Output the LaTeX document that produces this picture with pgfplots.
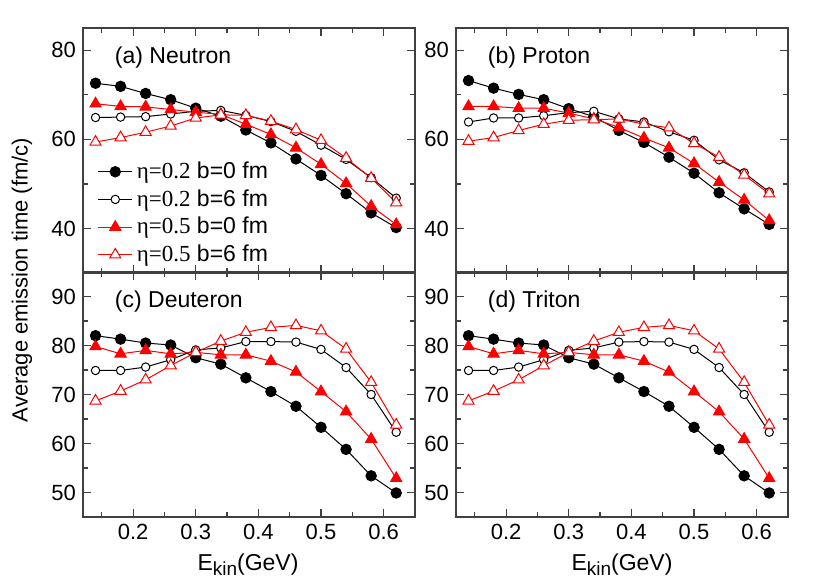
\documentclass[border=0pt]{standalone}
\usepackage{pgfplots}
\pgfplotsset{compat=1.18}
\usepackage{pgfplotstable}
\usepackage{fontspec}
\setmainfont{Liberation Sans}
\newfontfamily\serif{Liberation Serif}

% columns: a = eta 0.2 b=0, b = eta 0.2 b=6, c = eta 0.5 b=0, d = eta 0.5 b=6
\pgfplotstableread{
x    a    b    c    d
0.14 72.6 64.9 68.0 59.4
0.18 71.9 65.0 67.4 60.4
0.22 70.3 65.1 67.3 61.6
0.26 68.9 65.7 66.7 63.0
0.30 67.0 66.3 66.1 64.8
0.34 65.2 66.5 65.6 65.5
0.38 62.1 65.4 63.4 65.4
0.42 59.2 64.0 61.1 64.1
0.46 55.6 61.8 58.1 62.2
0.50 51.9 58.7 54.4 59.8
0.54 47.8 55.5 50.1 55.8
0.58 43.5 51.4 45.0 51.3
0.62 40.2 46.8 40.9 45.8
}\neutron
\pgfplotstableread{
x    a    b    c    d
0.14 73.2 63.9 67.4 59.6
0.18 71.5 64.8 67.4 60.4
0.22 70.1 64.8 67.0 62.0
0.26 68.9 65.3 67.0 63.4
0.30 66.9 66.0 65.9 64.3
0.34 65.1 66.3 64.6 64.4
0.38 62.0 64.6 62.7 64.6
0.42 59.3 63.9 60.3 63.4
0.46 56.0 61.7 58.1 62.6
0.50 52.4 59.8 54.6 59.1
0.54 48.0 55.4 50.4 56.0
0.58 44.4 52.5 46.4 52.0
0.62 40.9 48.2 41.8 47.8
}\proton
\pgfplotstableread{
x    a    b    c    d
0.14 82.0 74.9 79.8 68.7
0.18 81.3 74.9 78.3 70.7
0.22 80.5 75.6 79.0 73.0
0.26 80.1 77.1 78.3 75.9
0.30 77.5 79.1 78.6 78.6
0.34 76.2 79.5 78.1 80.9
0.38 73.4 80.8 78.1 82.7
0.42 70.6 80.8 76.8 83.7
0.46 67.6 80.7 74.6 84.1
0.50 63.3 79.2 70.6 83.0
0.54 58.8 75.5 66.5 79.3
0.58 53.4 70.0 60.9 72.5
0.62 49.9 62.3 52.9 63.8
}\deuteron
\pgfplotstableread{
x    a    b    c    d
0.14 82.0 74.9 79.8 68.7
0.18 81.3 74.9 78.3 70.7
0.22 80.5 75.6 79.0 73.0
0.26 80.1 77.1 78.3 75.9
0.30 77.5 79.0 78.6 78.6
0.34 76.2 79.5 78.1 80.9
0.38 73.4 80.7 78.1 82.7
0.42 70.6 80.8 76.8 83.7
0.46 67.6 80.7 74.6 84.1
0.50 63.3 79.2 70.6 83.0
0.54 58.8 75.5 66.5 79.3
0.58 53.4 70.0 60.9 72.5
0.62 49.9 62.3 52.9 63.8
}\triton

\pgfplotsset{
  panel/.style={
    scale only axis, width=166pt, height=122.5pt,
    xmin=0.12, xmax=0.65,
    xtick={0.2,0.3,0.4,0.5,0.6}, minor xtick={0.15,0.25,0.35,0.45,0.55,0.65},
    tick align=inside, tick pos=both,
    xticklabel pos=bottom, yticklabel pos=left,
    major tick length=4pt, minor tick length=2.5pt,
    axis line style={line width=0.8pt, black!75},
    every tick/.style={black!75, line width=0.6pt},
    tick label style={font=\fontsize{11}{13}\selectfont},
    /pgf/number format/assume math mode=true,
    x tick label style={/pgf/number format/.cd, fixed, precision=1},
    clip=false,
  },
  toppanel/.style={panel, ymin=30, ymax=85, ytick={40,60,80},
    minor ytick={30,50,70}, xticklabels=\empty},
  botpanel/.style={panel, ymin=45, ymax=95, ytick={50,60,70,80,90},
    minor ytick={45,55,65,75,85,95}},
  s1/.style={black, line width=0.5pt, mark=*, mark size=2.6pt, mark options={solid}},
  s2/.style={black, line width=0.5pt, mark=*, mark size=2.1pt, mark options={solid, fill=white}},
  s3/.style={red, line width=0.5pt, mark=triangle*, mark size=3.2pt, mark options={solid}},
  s4/.style={red, line width=0.5pt, mark=triangle*, mark size=3.2pt, mark options={solid, fill=white}},
}

\newcommand{\lbl}[1]{\node[anchor=west, font=\fontsize{11.5}{13}\selectfont] at (rel axis cs:0.075,0.88) {#1};}
\newcommand{\allfour}[1]{%
  \addplot[s1] table[x=x, y=a] {#1};
  \addplot[s2] table[x=x, y=b] {#1};
  \addplot[s3] table[x=x, y=c] {#1};
  \addplot[s4] table[x=x, y=d] {#1};
}

\begin{document}
\begin{tikzpicture}
\path[use as bounding box] (0,0) rectangle (415pt,291pt);

% (a) Neutron
\begin{axis}[toppanel, at={(41.5pt,154.5pt)}, anchor=south west,
  legend style={draw=none, fill=none, at={(0.025,0.0)}, anchor=south west,
    font=\fontsize{11.5}{14.2}\selectfont, cells={anchor=west}}]
\allfour{\neutron}
\addlegendentry{{\serif η=0.2} b=0 fm}
\addlegendentry{{\serif η=0.2} b=6 fm}
\addlegendentry{{\serif η=0.5} b=0 fm}
\addlegendentry{{\serif η=0.5} b=6 fm}
\lbl{(a) Neutron}
\end{axis}

% (b) Proton
\begin{axis}[toppanel, at={(228pt,154.5pt)}, anchor=south west]
\allfour{\proton}
\lbl{(b) Proton}
\end{axis}

% (c) Deuteron
\begin{axis}[botpanel, at={(41.5pt,32.5pt)}, anchor=south west]
\allfour{\deuteron}
\lbl{(c) Deuteron}
\end{axis}

% (d) Triton
\begin{axis}[botpanel, at={(228pt,32.5pt)}, anchor=south west]
\allfour{\triton}
\lbl{(d) Triton}
\end{axis}

\node[rotate=90, font=\fontsize{11}{13}\selectfont] at (11pt,151pt) {Average emission time (fm/c)};
\node[font=\fontsize{11.5}{13}\selectfont] at (124pt,8.5pt) {E\raisebox{-0.4ex}{\fontsize{9.5}{10}\selectfont kin}(GeV)};
\node[font=\fontsize{11.5}{13}\selectfont] at (311pt,8.5pt) {E\raisebox{-0.4ex}{\fontsize{9.5}{10}\selectfont kin}(GeV)};
\end{tikzpicture}
\end{document}
